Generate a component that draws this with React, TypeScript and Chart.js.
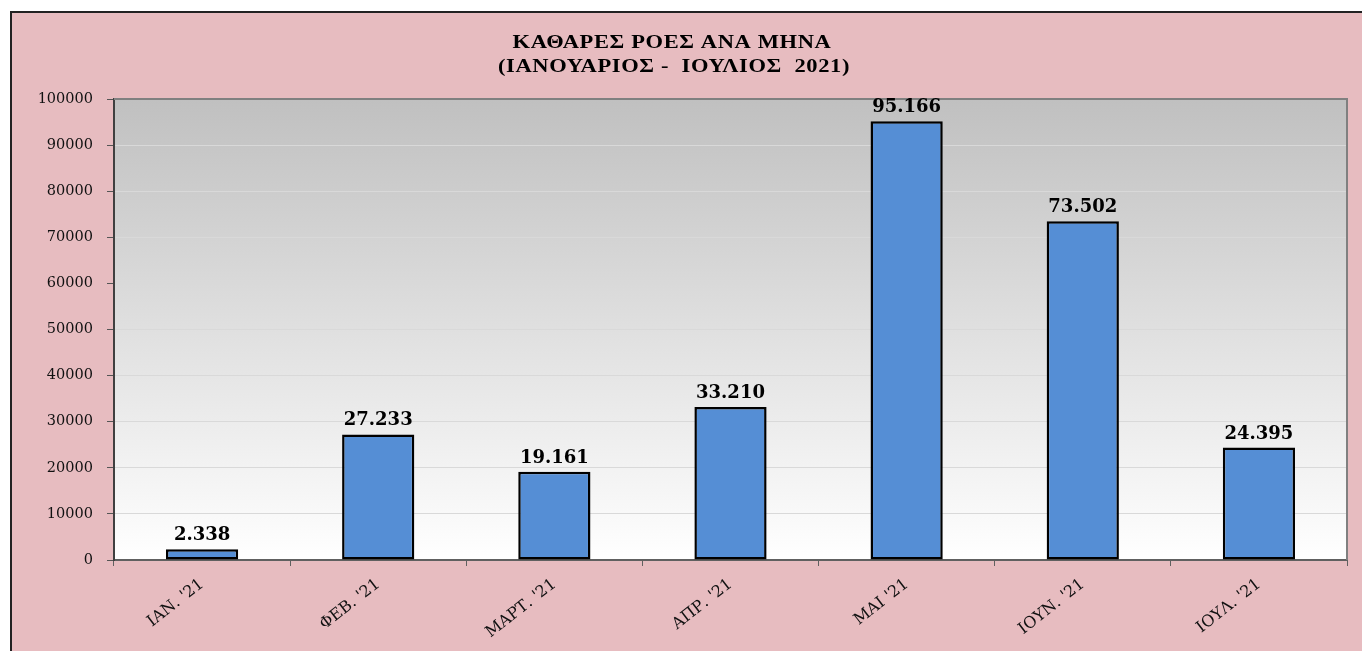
import React, { useEffect, useRef } from "react";
import { Chart, registerables } from "chart.js";

Chart.register(...registerables);

const categories = ["ΙΑΝ. '21", "ΦΕΒ. '21", "ΜΑΡΤ. '21", "ΑΠΡ. '21", "ΜΑΙ '21", "ΙΟΥΝ. '21", "ΙΟΥΛ. '21"];
const netFlows = [2338, 27233, 19161, 33210, 95166, 73502, 24395];
const titleLines = ["ΚΑΘΑΡΕΣ ΡΟΕΣ ΑΝΑ ΜΗΝΑ", "(ΙΑΝΟΥΑΡΙΟΣ -  ΙΟΥΛΙΟΣ  2021)"];
const yMin = 0;
const yMax = 100000;
const yStep = 10000;

const fmt = (v: number) => {
  const s = String(Math.round(v));
  return s.replace(/\B(?=(\d{3})+(?!\d))/g, ".");
};

const W = 1350;
const H = 638;

export default function App() {
  const ref = useRef<HTMLCanvasElement | null>(null);

  useEffect(() => {
    if (!ref.current) return;

    const bgPlugin = {
      id: "plotBg",
      beforeDraw(chart: any) {
        const { ctx, chartArea } = chart;
        const { left, top, right, bottom } = chartArea;
        ctx.save();
        const g = ctx.createLinearGradient(0, top, 0, bottom);
        g.addColorStop(0, "#c0c0c0");
        g.addColorStop(1, "#ffffff");
        ctx.fillStyle = g;
        ctx.fillRect(left, top, right - left, bottom - top);
        ctx.restore();
        // title (horizontally widened serif)
        const lines: [string, number, number][] = [
          [titleLines[0], 660, 35],
          [titleLines[1], 662, 59],
        ];
        lines.forEach(([txt, x, y]) => {
          ctx.save();
          ctx.fillStyle = "#000";
          ctx.font = "bold 18px 'Liberation Serif', 'Times New Roman', serif";
          ctx.textAlign = "center";
          ctx.textBaseline = "alphabetic";
          try { (ctx as any).letterSpacing = "0.5px"; } catch (e) {}
          ctx.translate(x, y);
          ctx.scale(1.25, 1);
          ctx.fillText(txt, 0, 0);
          try { (ctx as any).letterSpacing = "0px"; } catch (e) {}
          ctx.restore();
        });
      },
      afterDatasetsDraw(chart: any) {
        const { ctx, chartArea } = chart;
        const { left, top, right, bottom } = chartArea;
        ctx.save();
        ctx.strokeStyle = "#808080";
        ctx.lineWidth = 2;
        ctx.beginPath();
        ctx.moveTo(left, top);
        ctx.lineTo(right, top);
        ctx.lineTo(right, bottom);
        ctx.stroke();
        const meta = chart.getDatasetMeta(0);
        ctx.fillStyle = "#000";
        ctx.font = "bold 18px 'DejaVu Serif', serif";
        ctx.textAlign = "center";
        ctx.textBaseline = "alphabetic";
        meta.data.forEach((bar: any, i: number) => {
          ctx.fillText(fmt(netFlows[i]), bar.x, bar.y - 9);
        });
        ctx.restore();
      },
    };

    const chart = new Chart(ref.current, {
      type: "bar",
      data: {
        labels: categories,
        datasets: [
          {
            data: netFlows,
            backgroundColor: "#558ED5",
            borderColor: "#000000",
            borderWidth: 2.5,
            borderSkipped: false,
            categoryPercentage: 1,
            barPercentage: 0.41,
          },
        ],
      },
      options: {
        animation: false,
        responsive: false,
        layout: { padding: { left: 0, top: 86, right: 15, bottom: 0 } },
        plugins: {
          legend: { display: false },
          title: { display: false },
          tooltip: { enabled: false },
        },
        scales: {
          x: {
            offset: true,
            grid: {
              display: true,
              drawOnChartArea: false,
              offset: true,
              tickLength: 6,
              tickColor: "#606060",
            },
            border: { display: true, color: "#606060", width: 2 },
            ticks: {
              autoSkip: false,
              minRotation: 38,
              maxRotation: 38,
              padding: 9,
              color: "#111",
              font: { family: "'DejaVu Serif', serif", size: 16 },
            },
            afterFit(scale: any) {
              scale.height = 91;
            },
          },
          y: {
            min: yMin,
            max: yMax,
            ticks: {
              stepSize: yStep,
              padding: 14,
              color: "#111",
              font: { family: "'DejaVu Serif', serif", size: 14.5 },
              callback: (v: any) => String(v),
            },
            grid: {
              color: "#d9d9d9",
              tickColor: "#555",
              tickLength: 7,
              lineWidth: 1,
            },
            border: { display: true, color: "#404040", width: 2 },
            afterFit(scale: any) {
              scale.width = 102;
            },
          },
        },
      },
      plugins: [bgPlugin],
    });

    return () => chart.destroy();
  }, []);

  return (
    <div
      style={{
        position: "fixed",
        left: 10,
        top: 11,
        right: 0,
        bottom: 0,
        borderLeft: "2px solid #222",
        borderTop: "2px solid #222",
        background: "#E7BCC0",
        overflow: "hidden",
      }}
    >
      <canvas ref={ref} width={W} height={H} style={{ display: "block" }} />
    </div>
  );
}
